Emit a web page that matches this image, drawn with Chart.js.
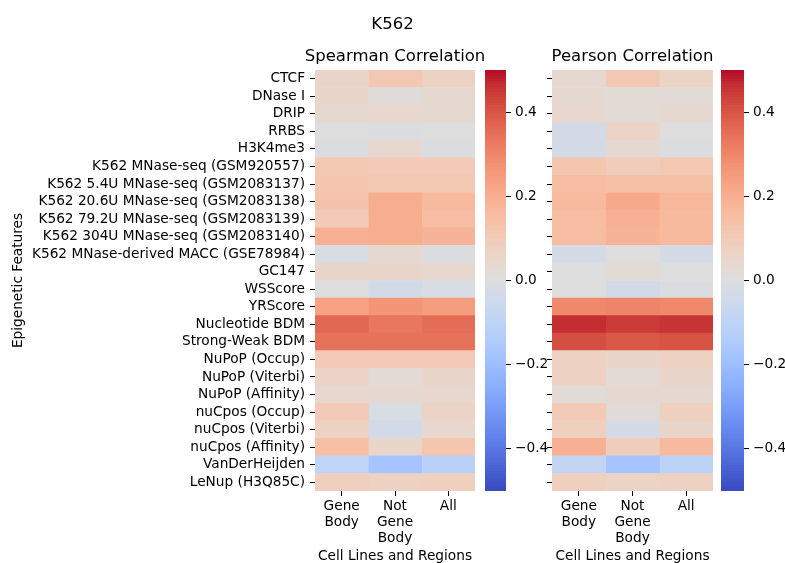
<!DOCTYPE html>
<html>
<head>
<meta charset="utf-8">
<script src="https://cdn.jsdelivr.net/npm/chart.js@4.4.0/dist/chart.umd.min.js"></script>
<style>
  html, body { margin: 0; padding: 0; background: #ffffff; }
  #fig { position: relative; width: 785px; height: 563px; }
  #fig canvas { position: absolute; left: 0; top: 0; }
</style>
</head>
<body>
<div id="fig">
  <canvas id="spearman" width="785" height="563"></canvas>
  <canvas id="spearmanBar" width="785" height="563"></canvas>
  <canvas id="pearson" width="785" height="563"></canvas>
  <canvas id="pearsonBar" width="785" height="563"></canvas>
</div>
<script>
// Epigenetic features (rows, top to bottom)
const features = [
  'CTCF', 'DNase I', 'DRIP', 'RRBS', 'H3K4me3',
  'K562 MNase-seq (GSM920557)',
  'K562 5.4U MNase-seq (GSM2083137)',
  'K562 20.6U MNase-seq (GSM2083138)',
  'K562 79.2U MNase-seq (GSM2083139)',
  'K562 304U MNase-seq (GSM2083140)',
  'K562 MNase-derived MACC (GSE78984)',
  'GC147', 'WSScore', 'YRScore', 'Nucleotide BDM', 'Strong-Weak BDM',
  'NuPoP (Occup)', 'NuPoP (Viterbi)', 'NuPoP (Affinity)',
  'nuCpos (Occup)', 'nuCpos (Viterbi)', 'nuCpos (Affinity)',
  'VanDerHeijden', 'LeNup (H3Q85C)'
];

// Region columns (left to right)
const regions = [['Gene', 'Body'], ['Not', 'Gene', 'Body'], ['All']];

// Spearman correlation per region
const spearmanGeneBody    = [0.05, 0.05, 0.03, 0.00, -0.01, 0.11, 0.12, 0.13, 0.10, 0.19, -0.02, 0.05, 0.00, 0.23, 0.36, 0.34, 0.10, 0.06, 0.04, 0.10, 0.07, 0.14, -0.10, 0.08];
const spearmanNotGeneBody = [0.11, 0.01, 0.04, -0.01, 0.04, 0.10, 0.11, 0.20, 0.20, 0.20, 0.03, 0.05, -0.04, 0.26, 0.33, 0.34, 0.10, 0.02, 0.03, -0.02, -0.04, 0.05, -0.18, 0.07];
const spearmanAll         = [0.07, 0.03, 0.03, 0.00, -0.01, 0.10, 0.11, 0.16, 0.15, 0.18, -0.01, 0.04, -0.02, 0.24, 0.35, 0.34, 0.10, 0.05, 0.04, 0.06, 0.04, 0.12, -0.12, 0.08];

// Pearson correlation per region
const pearsonGeneBody    = [0.03, 0.03, 0.04, -0.03, -0.03, 0.12, 0.15, 0.16, 0.15, 0.15, -0.03, 0.00, 0.00, 0.29, 0.46, 0.41, 0.07, 0.07, 0.02, 0.10, 0.08, 0.19, -0.09, 0.08];
const pearsonNotGeneBody = [0.11, 0.02, 0.02, 0.06, 0.03, 0.09, 0.14, 0.21, 0.19, 0.18, 0.00, 0.02, -0.04, 0.30, 0.44, 0.39, 0.05, 0.02, 0.03, 0.01, -0.03, 0.09, -0.18, 0.06];
const pearsonAll         = [0.06, 0.02, 0.03, 0.00, -0.01, 0.11, 0.14, 0.17, 0.16, 0.16, -0.03, 0.00, -0.01, 0.29, 0.45, 0.40, 0.07, 0.05, 0.03, 0.08, 0.05, 0.16, -0.11, 0.07];

// Colour scale range and colorbar ticks
const vMin = -0.5, vMax = 0.5;
const colorbarTicks = [-0.4, -0.2, 0.0, 0.2, 0.4];

// Diverging cool-warm colour map (blue -> grey -> red)
const coolwarmTable = [
  [59,76,192],[68,90,204],[77,104,215],[87,117,225],[98,130,234],[108,142,241],
  [119,154,247],[130,165,251],[141,176,254],[152,185,255],[163,194,255],[174,201,253],
  [184,208,249],[194,213,244],[204,217,238],[213,219,230],[221,221,221],[229,216,209],
  [236,211,197],[241,204,185],[245,196,173],[247,187,160],[247,177,148],[247,166,135],
  [244,154,123],[241,141,111],[236,127,99],[229,112,88],[222,96,77],[213,80,66],
  [203,62,56],[192,40,47],[180,4,38]
];
function coolwarm(v) {
  let t = (v - vMin) / (vMax - vMin);
  t = Math.max(0, Math.min(1, t));
  const pos = t * (coolwarmTable.length - 1);
  const i = Math.min(Math.floor(pos), coolwarmTable.length - 2);
  const f = pos - i;
  const a = coolwarmTable[i], b = coolwarmTable[i + 1];
  const c = a.map((x, k) => Math.round(x + (b[k] - x) * f));
  return `rgb(${c[0]},${c[1]},${c[2]})`;
}

const W = 785, H = 563;
Chart.defaults.font.family = "'DejaVu Sans', sans-serif";
Chart.defaults.font.size = 13.7;
Chart.defaults.color = '#000';

// Figure title and panel titles
const panelTitle = {
  id: 'panelTitle',
  afterDraw(chart, args, opts) {
    const { ctx, chartArea } = chart;
    ctx.save();
    ctx.font = "16.5px 'DejaVu Sans', sans-serif";
    ctx.fillStyle = '#000';
    ctx.textAlign = 'center';
    ctx.textBaseline = 'alphabetic';
    ctx.fillText(opts.text, (chartArea.left + chartArea.right) / 2, chartArea.top - 9.5);
    if (opts.figureTitle) ctx.fillText(opts.figureTitle, chart.width / 2, 29.3);
    ctx.restore();
  }
};

const tickGrid = { drawOnChartArea: false, drawTicks: true, tickLength: 5, tickColor: '#000', tickWidth: 1 };

function heatmap(id, title, columns, area, showLabels, figureTitle) {
  return new Chart(document.getElementById(id), {
    type: 'bar',
    data: {
      labels: features,
      datasets: columns.map((vals, j) => ({
        data: vals.map(() => [j, j + 1]),
        backgroundColor: vals.map(coolwarm),
        borderWidth: 0,
        barPercentage: 1,
        categoryPercentage: 1,
        grouped: false
      }))
    },
    options: {
      indexAxis: 'y',
      responsive: false,
      animation: false,
      events: [],
      layout: { padding: { left: 0, right: W - area.right, top: area.top, bottom: 0 } },
      plugins: {
        legend: { display: false },
        tooltip: { enabled: false },
        panelTitle: { text: title, figureTitle: figureTitle }
      },
      scales: {
        x: {
          type: 'linear', min: 0, max: columns.length,
          afterBuildTicks: s => { s.ticks = columns.map((_, j) => ({ value: j + 0.5 })); },
          afterFit: s => { s.height = H - area.bottom; },
          ticks: {
            callback: v => regions[Math.floor(v)],
            maxRotation: 0, padding: 2, color: '#000',
            font: { size: 13.7, lineHeight: 16 / 13.7 }
          },
          grid: tickGrid,
          border: { display: false },
          title: {
            display: true, text: 'Cell Lines and Regions', color: '#000',
            font: { size: 13.7, lineHeight: 1 }, padding: { top: 0, bottom: 0 }
          }
        },
        y: {
          type: 'category',
          afterFit: s => { s.width = area.left; },
          ticks: {
            autoSkip: false, padding: 5, color: '#000',
            callback: (v, i) => showLabels ? features[i] : ''
          },
          grid: Object.assign({ offset: false }, tickGrid),
          border: { display: false },
          title: {
            display: showLabels, text: 'Epigenetic Features', color: '#000',
            font: { size: 13.7 }, padding: { top: 10, bottom: 0 }
          }
        }
      }
    },
    plugins: [panelTitle]
  });
}

// Colour bar: a column of thin, slightly overlapping floating bars spanning vMin..vMax
function colorbar(id, area) {
  const n = 160;
  const step = (vMax - vMin) / n;
  const bands = [];
  for (let k = 0; k < n; k++) {
    const lo = vMin + step * k;
    const hi = Math.min(vMax, lo + step * 1.6);
    bands.push([lo, hi, lo + step / 2]);
  }
  return new Chart(document.getElementById(id), {
    type: 'bar',
    data: {
      labels: [''],
      datasets: bands.map(([lo, hi, mid]) => ({
        data: [[lo, hi]],
        backgroundColor: coolwarm(mid),
        borderWidth: 0,
        barPercentage: 1,
        categoryPercentage: 1,
        grouped: false
      }))
    },
    options: {
      responsive: false,
      animation: false,
      events: [],
      layout: { padding: { left: area.left, right: W - area.right - 60, top: area.top, bottom: H - area.bottom } },
      plugins: { legend: { display: false }, tooltip: { enabled: false } },
      scales: {
        x: { display: false },
        y: {
          position: 'right', min: vMin, max: vMax,
          afterBuildTicks: s => { s.ticks = colorbarTicks.map(v => ({ value: v })); },
          afterFit: s => { s.width = 60; },
          ticks: {
            padding: 4, color: '#000',
            callback: v => v.toFixed(1).replace('-', '\u2212')
          },
          grid: tickGrid,
          border: { display: false }
        }
      }
    }
  });
}

heatmap('spearman', 'Spearman Correlation',
  [spearmanGeneBody, spearmanNotGeneBody, spearmanAll],
  { left: 315, right: 475, top: 70, bottom: 491 }, true, 'K562');
colorbar('spearmanBar', { left: 485, right: 506, top: 70, bottom: 491 });
heatmap('pearson', 'Pearson Correlation',
  [pearsonGeneBody, pearsonNotGeneBody, pearsonAll],
  { left: 552, right: 713, top: 70, bottom: 491 }, false, null);
colorbar('pearsonBar', { left: 721, right: 744, top: 70, bottom: 491 });
</script>
</body>
</html>
